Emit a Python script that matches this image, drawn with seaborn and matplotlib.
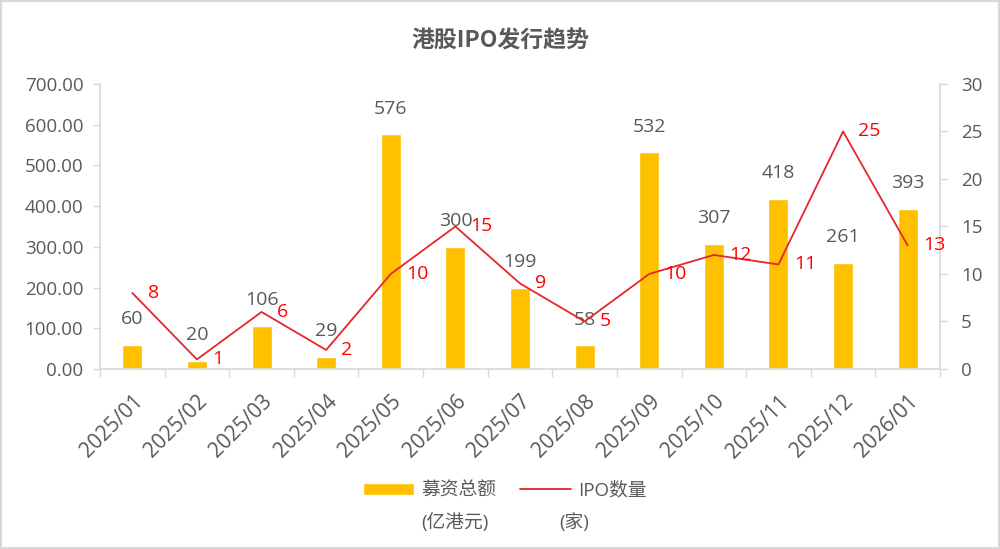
import matplotlib
matplotlib.use("Agg")
import matplotlib.pyplot as plt
import seaborn as sns
import pandas as pd
import numpy as np
from matplotlib.patches import Rectangle

months = ["2025/01", "2025/02", "2025/03", "2025/04", "2025/05", "2025/06", "2025/07",
          "2025/08", "2025/09", "2025/10", "2025/11", "2025/12", "2026/01"]
amounts = [60, 20, 106, 29, 576, 300, 199, 58, 532, 307, 418, 261, 393]
counts = [8, 1, 6, 2, 10, 15, 9, 5, 10, 12, 11, 25, 13]

sns.set_theme(style="white")
plt.rcParams['font.family'] = ['Open Sans', 'Noto Sans CJK SC', 'DejaVu Sans']

GRAY = "#595959"
GOLD = "#FFC000"
RED = "#E5262B"
AXC = "#D9D9D9"
FS = 13.5

df = pd.DataFrame({"month": months, "amount": amounts, "count": counts})

fig = plt.figure(figsize=(10, 5.49), dpi=100)
ax = fig.add_axes([0.10, 0.328, 0.84, 0.519])

sns.barplot(data=df, x="month", y="amount", color=GOLD, width=0.31, ax=ax,
            saturation=1, label="募资总额")
if ax.get_legend() is not None:
    ax.get_legend().remove()
ax.set_ylim(0, 700)
ax.set_yticks(np.arange(0, 701, 100))
ax.set_yticklabels([f"{v:.2f}" for v in np.arange(0, 701, 100)], color=GRAY, fontsize=FS)
ax.set_xlabel("")
ax.set_ylabel("")
ax.set_xlim(-0.5, len(months) - 0.5)
ax.set_xticks(range(len(months)))
ax.set_xticklabels(months, rotation=45, ha="right", rotation_mode="anchor", color=GRAY, fontsize=15)
ax.tick_params(axis="x", length=0, pad=16)
ax.tick_params(axis="y", length=5, pad=7, color=AXC, width=1, left=True)
ax.set_xticks(np.arange(-0.5, len(months), 1), minor=True)
ax.tick_params(axis="x", which="minor", length=6, color=AXC, width=1, bottom=True)
for s in ["top", "right"]:
    ax.spines[s].set_visible(False)
ax.spines["left"].set_color(AXC)
ax.spines["bottom"].set_color(AXC)
ax.grid(False)

for i, v in enumerate(amounts):
    ax.annotate(f"{v}", (i, v), xytext=(0, 12), textcoords="offset points",
                ha="center", va="bottom", color=GRAY, fontsize=14)

ax2 = ax.twinx()
sns.lineplot(x=np.arange(len(months)), y=counts, color=RED, linewidth=1.3, ax=ax2,
             label="IPO数量", legend=False)
ax2.set_ylim(0, 30)
ax2.set_yticks(range(0, 31, 5))
ax2.set_yticklabels([str(v) for v in range(0, 31, 5)], color=GRAY, fontsize=FS)
ax2.tick_params(axis="y", length=5, pad=10, color=AXC, width=1, right=True)
ax2.set_ylabel("")
for s in ["top", "left", "bottom"]:
    ax2.spines[s].set_visible(False)
ax2.spines["right"].set_color(AXC)
ax2.grid(False)
for i, v in enumerate(counts):
    ax2.annotate(f"{v}", (i, v), xytext=(11, 0), textcoords="offset points",
                 ha="left", va="center", color="#FF0000", fontsize=14)

fig.text(0.5, 0.925, "港股IPO发行趋势", ha="center", va="center", fontsize=16.5,
         fontweight="bold", color=GRAY, family=['Noto Sans CJK SC', 'DejaVu Sans'])

h1, l1 = ax.get_legend_handles_labels()
h2, l2 = ax2.get_legend_handles_labels()
leg = fig.legend(h1 + h2, l1 + l2, loc="center", bbox_to_anchor=(0.505, 0.107), ncol=2,
                 frameon=False, fontsize=FS, handlelength=2.7, handleheight=0.6,
                 columnspacing=1.3, handletextpad=0.4)
for t in leg.get_texts():
    t.set_color(GRAY)
fig.text(0.455, 0.049, "(亿港元)", ha="center", va="center", fontsize=FS, color=GRAY)
fig.text(0.574, 0.049, "(家)", ha="center", va="center", fontsize=FS, color=GRAY)

fig.patches.append(Rectangle((0.001, 0.002), 0.998, 0.996, transform=fig.transFigure,
                             fill=False, edgecolor=AXC, linewidth=1.5))

fig.savefig("out.png", dpi=100)
